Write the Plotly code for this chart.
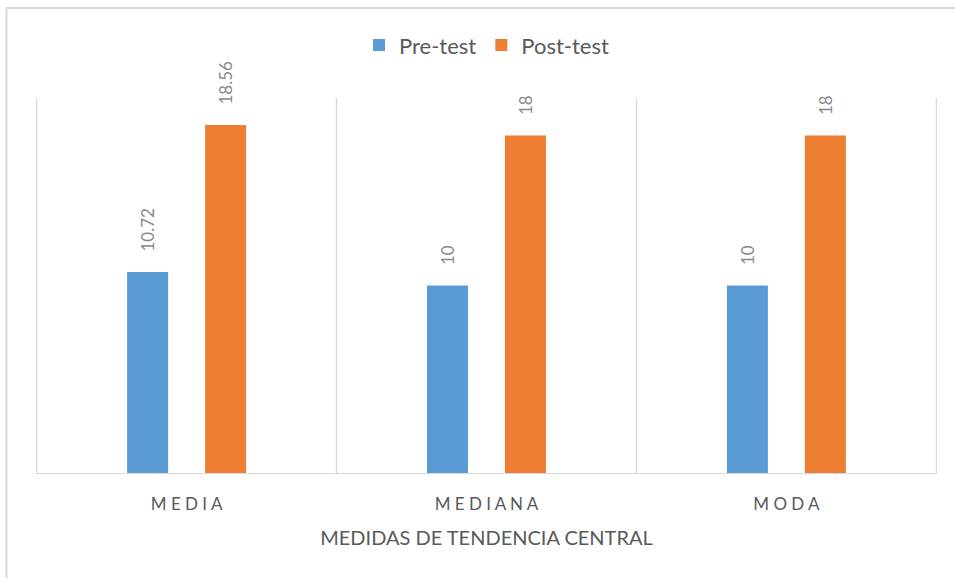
import plotly.graph_objects as go

categories = ["M E D I A", "M E D I A N A", "M O D A"]
pre_test = [10.72, 10, 10]
post_test = [18.56, 18, 18]
pre_labels = ["10.72", "10", "10"]
post_labels = ["18.56", "18", "18"]

FONT = "Lato, 'Open Sans', sans-serif"
GRID = "#d9d9d9"
PAD = "\u00a0" * 4

fig = go.Figure()
fig.add_bar(name="Pre-test", x=categories, y=pre_test, text=[PAD + t for t in pre_labels],
            marker=dict(color="#5b9bd5", line=dict(width=0)))
fig.add_bar(name="Post-test", x=categories, y=post_test, text=[PAD + t for t in post_labels],
            marker=dict(color="#ed7d31", line=dict(width=0)))
fig.update_traces(textposition="outside", textangle=-90, cliponaxis=False,
                  constraintext="none",
                  textfont=dict(family=FONT, size=17, color="#8a8a8a"),
                  hoverinfo="skip")

shapes = []
for xv in [-0.5, 0.5, 1.5, 2.5]:
    shapes.append(dict(type="line", xref="x", yref="paper", x0=xv, x1=xv, y0=0, y1=1,
                       line=dict(color=GRID, width=1.3), layer="below"))
# outer chart border
shapes.append(dict(type="rect", xref="paper", yref="paper",
                   x0=(6.5 - 36) / 901, x1=(970 - 36) / 901,
                   y0=(473 - 600) / 375, y1=(473 - 8) / 375,
                   line=dict(color=GRID, width=2)))

fig.update_layout(
    width=955, height=578,
    margin=dict(l=36, r=18, t=98, b=105),
    paper_bgcolor="white", plot_bgcolor="white",
    barmode="group", bargap=0.48, bargroupgap=0.474,
    font=dict(family=FONT, color="#595959"),
    showlegend=True,
    legend=dict(orientation="h", x=0.5, xanchor="center", y=1.141, yanchor="middle",
                font=dict(family=FONT, size=22, color="#595959"),
                itemwidth=30, traceorder="normal"),
    xaxis=dict(showline=True, linecolor=GRID, linewidth=1.3, showgrid=False,
               ticks="", ticklabelstandoff=15,
               tickfont=dict(family=FONT, size=17, color="#595959"),
               title=dict(text="MEDIDAS DE TENDENCIA CENTRAL",
                          font=dict(family=FONT, size=20, color="#595959"),
                          standoff=18),
               fixedrange=True),
    yaxis=dict(range=[0, 20], showgrid=False, showticklabels=False, zeroline=False,
               showline=False, ticks="", fixedrange=True),
    shapes=shapes,
)

fig.write_html("out.html", config={"displayModeBar": False},
               post_script="document.body.style.margin='0px';")
